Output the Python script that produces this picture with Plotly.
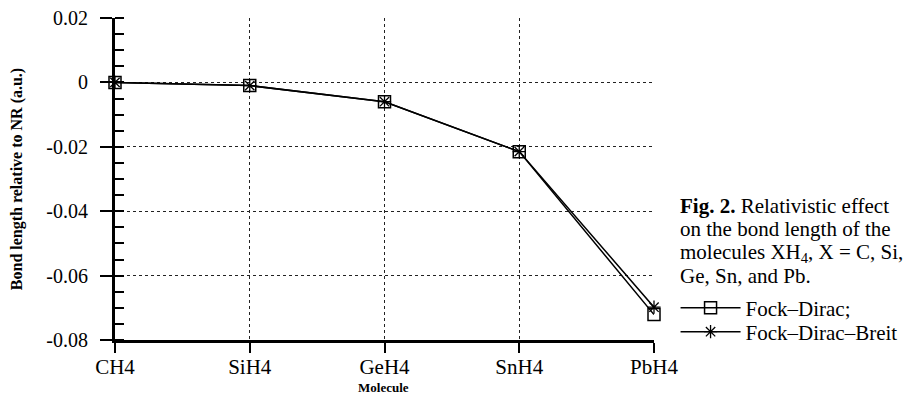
import plotly.graph_objects as go

molecules = ["CH4", "SiH4", "GeH4", "SnH4", "PbH4"]
fock_dirac = [0.0, -0.001, -0.006, -0.0215, -0.0721]
fock_dirac_breit = [0.0, -0.001, -0.006, -0.0215, -0.0698]
y_ticks = [0.02, 0.0, -0.02, -0.04, -0.06, -0.08]
y_ticklabels = ["0.02", "0", "-0.02", "-0.04", "-0.06", "-0.08"]

FONT = "Liberation Serif"
xpos = list(range(len(molecules)))

fig = go.Figure()
fig.add_trace(go.Scatter(
    x=xpos, y=fock_dirac, mode="lines+markers", name="Fock\u2013Dirac;",
    line=dict(color="black", width=1.5),
    marker=dict(symbol="square-open", size=12, color="black", line=dict(width=1.5)),
    cliponaxis=False, legend="legend",
))
fig.add_trace(go.Scatter(
    x=xpos, y=fock_dirac_breit, mode="lines+markers", name="Fock\u2013Dirac\u2013Breit",
    line=dict(color="black", width=1.5),
    marker=dict(symbol="asterisk-open", size=11, color="black", line=dict(width=1.3, color="black")),
    cliponaxis=False, legend="legend2",
))

leg_common = dict(xanchor="left", yanchor="middle",
                  font=dict(family=FONT, size=21, color="black"),
                  bgcolor="rgba(0,0,0,0)", borderwidth=0, itemwidth=60)

fig.update_layout(
    width=910, height=397,
    margin=dict(l=115, r=256, t=18, b=57, autoexpand=False),
    paper_bgcolor="white", plot_bgcolor="white",
    font=dict(family=FONT, color="black", size=19),
    showlegend=True,
    legend=dict(x=1.04, y=0.0994, **leg_common),
    legend2=dict(x=1.04, y=0.0248, **leg_common),
)

fig.update_xaxes(
    range=[0, 4], tickvals=xpos, ticktext=molecules, automargin=False,
    showline=True, linecolor="black", linewidth=3,
    ticks="outside", ticklen=10, tickwidth=2, tickcolor="black",
    showgrid=True, gridcolor="#222", griddash="dot", gridwidth=1,
    zeroline=False,
    tickfont=dict(family=FONT, size=21, color="black"),
    ticklabelstandoff=-4,
)
fig.update_yaxes(
    range=[-0.08, 0.02], tickvals=y_ticks, ticktext=y_ticklabels, automargin=False,
    showline=True, linecolor="black", linewidth=3,
    ticks="outside", ticklen=12, tickwidth=2, tickcolor="black",
    minor=dict(ticks="inside", dtick=0.005, tick0=0, ticklen=9, tickwidth=2, tickcolor="black", showgrid=False),
    showgrid=True, gridcolor="#222", griddash="dot", gridwidth=1,
    zeroline=False,
    tickfont=dict(family=FONT, size=20, color="black"),
    ticklabelstandoff=8,
    title=dict(text="<b>Bond length relative to NR (a.u.)</b>", font=dict(family=FONT, size=16, color="black"), standoff=20),
)

fig.add_annotation(text="<b>Molecule</b>", xref="paper", yref="paper", x=0.499, y=-0.149,
                   xanchor="center", yanchor="middle", showarrow=False,
                   font=dict(family=FONT, size=13, color="black"))

caption = [
    ("<b>Fig. 2.</b> Relativistic effect", 0.416),
    ("on the bond length of the", 0.345),
    ("molecules XH<sub>4</sub>, X = C, Si,", 0.270),
    ("Ge, Sn, and Pb.", 0.199),
]
for text, yy in caption:
    fig.add_annotation(text=text, xref="paper", yref="paper", x=1.0445, y=yy,
                       xanchor="left", yanchor="middle", showarrow=False,
                       font=dict(family=FONT, size=21, color="black"))

fig.write_html("out.html")
